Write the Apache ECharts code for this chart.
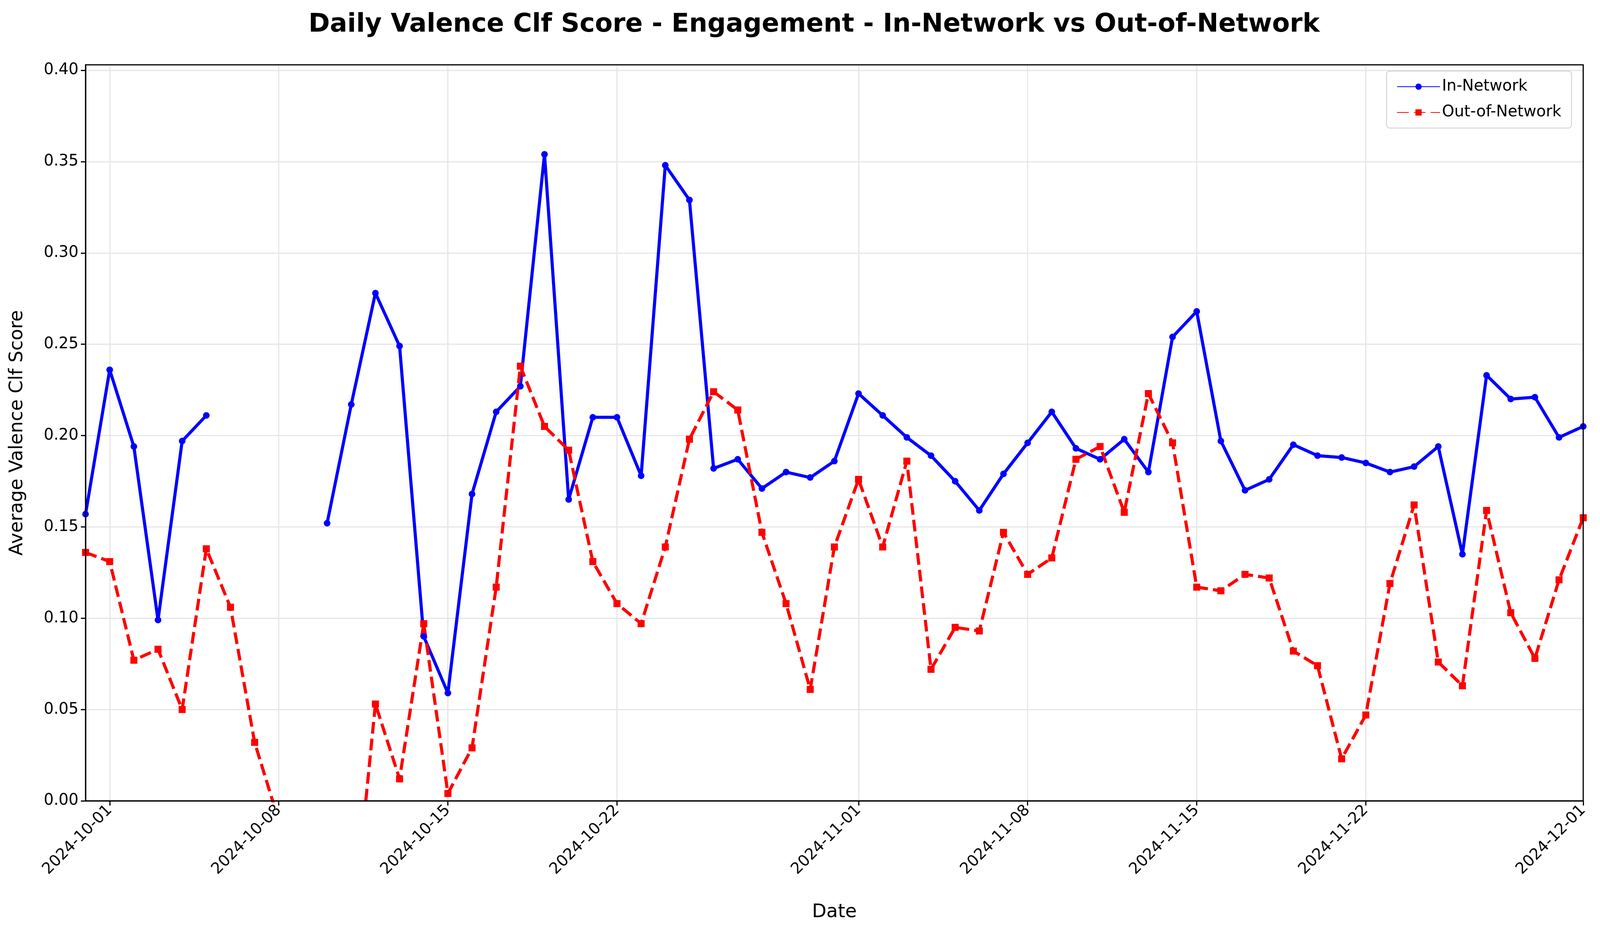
<!DOCTYPE html>
<html>
<head>
<meta charset="utf-8">
<script src="https://cdn.jsdelivr.net/npm/echarts@6/dist/echarts.min.js"></script>
<style>html,body{margin:0;padding:0;background:#fff}#main{width:4168px;height:2369px}</style>
</head>
<body>
<div id="main"></div>
<script>
// daily values from 2024-09-30 to 2024-12-01
const startDate = '2024-09-30';
const inNetwork = [0.157, 0.236, 0.194, 0.099, 0.197, 0.211, null, null, null, null,
  0.152, 0.217, 0.278, 0.249, 0.090, 0.059, 0.168, 0.213, 0.227, 0.354,
  0.165, 0.210, 0.210, 0.178, 0.348, 0.329, 0.182, 0.187, 0.171, 0.180,
  0.177, 0.186, 0.223, 0.211, 0.199, 0.189, 0.175, 0.159, 0.179, 0.196,
  0.213, 0.193, 0.187, 0.198, 0.180, 0.254, 0.268, 0.197, 0.170, 0.176,
  0.195, 0.189, 0.188, 0.185, 0.180, 0.183, 0.194, 0.135, 0.233, 0.220,
  0.221, 0.199, 0.205];
const outNetwork = [0.136, 0.131, 0.077, 0.083, 0.050, 0.138, 0.106, 0.032, -0.011, -0.04,
  -0.06, -0.08, 0.053, 0.012, 0.097, 0.004, 0.029, 0.117, 0.238, 0.205,
  0.192, 0.131, 0.108, 0.097, 0.139, 0.198, 0.224, 0.214, 0.147, 0.108,
  0.061, 0.139, 0.176, 0.139, 0.186, 0.072, 0.095, 0.093, 0.147, 0.124,
  0.133, 0.187, 0.194, 0.158, 0.223, 0.196, 0.117, 0.115, 0.124, 0.122,
  0.082, 0.074, 0.023, 0.047, 0.119, 0.162, 0.076, 0.063, 0.159, 0.103,
  0.078, 0.121, 0.155];
const tickLabels = ['2024-10-01', '2024-10-08', '2024-10-15', '2024-10-22', '2024-11-01',
  '2024-11-08', '2024-11-15', '2024-11-22', '2024-12-01'];

const DAY = 86400000;
const t0 = Date.parse(startDate + 'T00:00:00Z');
const toPairs = arr => arr.map((v, i) => [i, v]);
const tickIdx = tickLabels.map(s => Math.round((Date.parse(s + 'T00:00:00Z') - t0) / DAY));
const fmt = i => new Date(t0 + i * DAY).toISOString().slice(0, 10);

const GL = 219, GR = 115, GT = 166, GB = 318;
let myChart = echarts.init(document.getElementById('main'));
let option = {
    animation: false,
    title: {
        text: 'Daily Valence Clf Score - Engagement - In-Network vs Out-of-Network',
        left: 'center', top: 26,
        textStyle: { fontSize: 66, fontWeight: 'bold', color: '#000', fontFamily: 'DejaVu Sans' }
    },
    legend: {
        right: 145, top: 182, orient: 'vertical',
        itemWidth: 110, itemHeight: 20, itemGap: 26,
        padding: [20, 26], borderColor: '#ccc', borderWidth: 2, borderRadius: 8,
        textStyle: { fontSize: 40, fontFamily: 'DejaVu Sans', color: '#000' },
        data: ['In-Network', 'Out-of-Network']
    },
    grid: { left: GL, right: GR, top: GT, bottom: GB },
    xAxis: {
        type: 'value', min: 0, max: inNetwork.length - 1,
        name: 'Date', nameLocation: 'middle', nameGap: 262,
        nameTextStyle: { fontSize: 48, fontFamily: 'DejaVu Sans', color: '#000' },
        axisLine: { show: true, onZero: false, lineStyle: { color: '#000', width: 3 } },
        axisTick: { show: true, customValues: tickIdx, length: 12, lineStyle: { color: '#000', width: 3 } },
        axisLabel: { customValues: tickIdx, formatter: v => fmt(v), rotate: 45, fontSize: 40,
            fontFamily: 'DejaVu Sans', color: '#000', margin: 18 },
        splitLine: { show: true, lineStyle: { color: '#e6e6e6', width: 3 } }
    },
    yAxis: {
        type: 'value', min: 0, max: 0.403, interval: 0.05,
        name: 'Average Valence Clf Score', nameLocation: 'middle', nameGap: 150,
        nameTextStyle: { fontSize: 48, fontFamily: 'DejaVu Sans', color: '#000' },
        axisLine: { show: true, lineStyle: { color: '#000', width: 3 } },
        axisTick: { show: true, length: 12, lineStyle: { color: '#000', width: 3 } },
        axisLabel: { fontSize: 40, fontFamily: 'DejaVu Sans', color: '#000', margin: 18,
            showMaxLabel: false, formatter: v => v.toFixed(2) },
        splitLine: { show: true, lineStyle: { color: '#e6e6e6', width: 3 } }
    },
    series: [
        {
            name: 'In-Network', type: 'line', data: toPairs(inNetwork),
            symbol: 'circle', symbolSize: 17, connectNulls: false,
            itemStyle: { color: '#0000ff' },
            lineStyle: { color: '#0000ff', width: 8 }
        },
        {
            name: 'Out-of-Network', type: 'line', data: toPairs(outNetwork),
            symbol: 'rect', symbolSize: 18, clip: true,
            itemStyle: { color: '#ff0000' },
            lineStyle: { color: '#ff0000', width: 8, type: [30, 13] }
        }
    ],
    graphic: [{ type: 'rect', shape: { x: GL, y: GT, width: 4168 - GL - GR, height: 2369 - GT - GB },
        style: { fill: 'none', stroke: '#000', lineWidth: 3 }, silent: true, z: 100 }]
};
myChart.setOption(option);
</script>
</body>
</html>
